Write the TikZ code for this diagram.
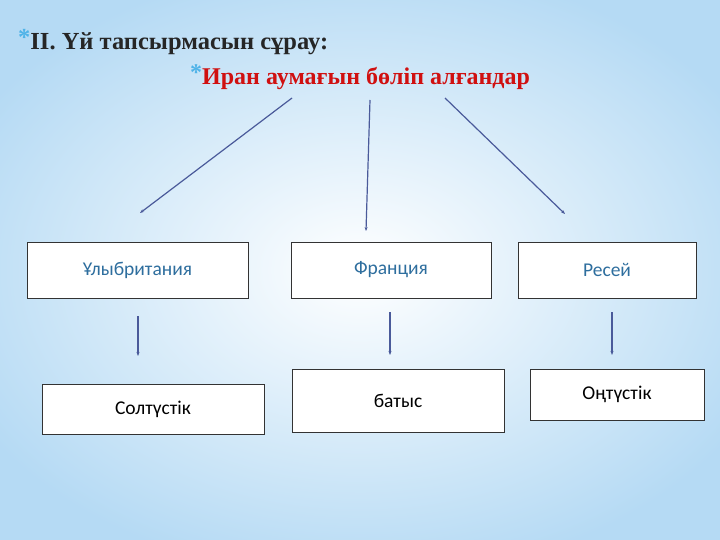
\documentclass[tikz,border=0pt]{standalone}
\usepackage{fontspec}
\usetikzlibrary{arrows.meta}
\setmainfont{Liberation Serif}
\newfontfamily\boxfont{Carlito}
\definecolor{hdr}{HTML}{262626}
\definecolor{redh}{HTML}{D01010}
\definecolor{arr}{HTML}{4A5A9A}
\definecolor{bluetxt}{HTML}{2E6E9E}
\definecolor{bgblue}{HTML}{B5DAF4}
\definecolor{star}{HTML}{4FB3E8}
\begin{document}
\begin{tikzpicture}[x=1pt,y=-1pt,
  box/.style={draw=black!80,fill=white,line width=0.8pt,font=\boxfont\fontsize{19.5}{22}\selectfont},
  conn/.style={draw=arr,line width=1.2pt,-{Stealth[length=4pt,width=3pt]}}]
\useasboundingbox (0,0) rectangle (720,540);
\shade[inner color=white,outer color=bgblue] (-80,-40) rectangle (800,580);
\node[anchor=base west,font=\bfseries\fontsize{24.5}{26}\selectfont,text=hdr,inner sep=0] (h1) at (18,50) {\raisebox{4pt}{\textcolor{star}{*}}II. Үй тапсырмасын сұрау:};
\node[anchor=base west,font=\bfseries\fontsize{24}{26}\selectfont,text=redh,inner sep=0] (h2) at (190,85) {\raisebox{4pt}{\textcolor{star}{*}}Иран аумағын бөліп алғандар};
\node[box,text=bluetxt,minimum width=221,minimum height=56] (a) at (137.5,270) {Ұлыбритания};
\node[box,text=bluetxt,minimum width=200,minimum height=56] (b) at (391,270) {Франция};
\node[box,text=bluetxt,minimum width=178,minimum height=56] (c) at (607,270) {Ресей};
\node[box,minimum width=222,minimum height=50] (d) at (153,409) {Солтүстік};
\node[box,minimum width=212,minimum height=63] (e) at (398,400.5) {батыс};
\node[box,minimum width=174,minimum height=51] (f) at (617,394.5) {Оңтүстік};
\coordinate (s1) at (292,98); \coordinate (t1) at (140,213);
\coordinate (s2) at (370,100); \coordinate (t2) at (366,231);
\coordinate (s3) at (445,98); \coordinate (t3) at (565,214);
\coordinate (s4) at (138,316); \coordinate (t4) at (138,356);
\coordinate (s5) at (390,312); \coordinate (t5) at (390,355);
\coordinate (s6) at (612,312); \coordinate (t6) at (612,355);
\draw[conn] (s1) -- (t1);
\draw[conn] (s2) -- (t2);
\draw[conn] (s3) -- (t3);
\draw[conn] (s4) -- (t4);
\draw[conn] (s5) -- (t5);
\draw[conn] (s6) -- (t6);
\end{tikzpicture}
\end{document}
